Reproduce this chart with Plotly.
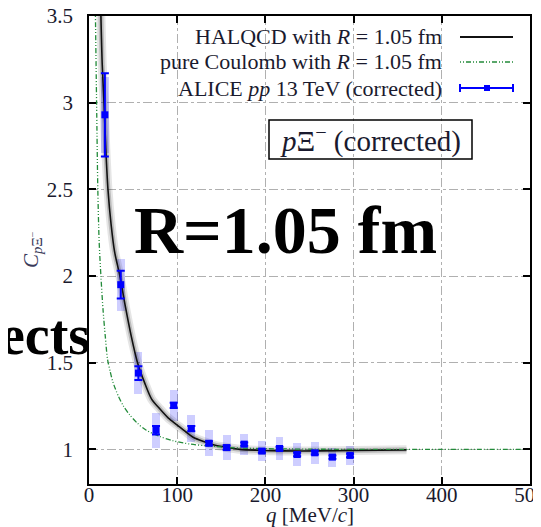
import plotly.graph_objects as go

# ---- data ----
q_data = [18, 36, 56, 76, 96, 116, 136, 156, 176, 196, 216, 236, 256, 276, 296]
c_data = [2.93, 1.95, 1.44, 1.11, 1.254, 1.12, 1.035, 1.01, 1.03, 0.99, 1.005, 0.97, 0.98, 0.955, 0.965]
stat_err = [0.24, 0.08, 0.04, 0.025, 0.015, 0.015, 0.012, 0.012, 0.01, 0.01, 0.01, 0.01, 0.01, 0.01, 0.01]
sys_err = [0.22, 0.15, 0.12, 0.10, 0.09, 0.08, 0.075, 0.07, 0.06, 0.06, 0.065, 0.065, 0.065, 0.055, 0.055]

q_hal = [13.5, 15, 17, 19, 21.5, 25, 29, 35, 41, 48, 55, 63, 71, 80, 90, 100, 110, 118, 130, 142, 155, 171, 190, 220, 260, 300, 360]
c_hal = [3.5, 3.22, 3.0, 2.74, 2.5, 2.3, 2.14, 2.0, 1.83, 1.65, 1.5, 1.385, 1.29, 1.235, 1.18, 1.14, 1.10, 1.07, 1.045, 1.025, 1.012, 1.0, 0.995, 0.991, 0.991, 0.993, 0.997]

q_coul = [7.3, 8.6, 10, 11.5, 13.5, 16, 18.5, 21, 24, 27, 33, 39, 46, 55, 65, 80, 95, 115, 135, 160, 200, 250, 300, 400, 500]
c_coul = [3.5, 3.0, 2.5, 2.2, 2.0, 1.8, 1.65, 1.52, 1.45, 1.39, 1.31, 1.25, 1.2, 1.15, 1.11, 1.075, 1.05, 1.03, 1.02, 1.01, 1.004, 1.001, 1.0, 1.0, 1.0]

x_ticks = [0, 100, 200, 300, 400, 500]
y_ticks = [1, 1.5, 2, 2.5, 3, 3.5]
y_ticktext = ["1", "1.5", "2", "2.5", "3", "3.5"]

legend_labels = ["HALQCD with <i>R</i> = 1.05 fm",
                 "pure Coulomb with <i>R</i> = 1.05 fm",
                 "ALICE <i>pp</i> 13 TeV (corrected)"]

SERIF = "Liberation Serif, Times New Roman, serif"
BLUE = "#0000ff"
GREEN = "#238b3a"
TXT = "#1a1a2e"

fig = go.Figure()

# systematic boxes
fig.add_trace(go.Bar(
    x=q_data,
    y=[2 * s for s in sys_err],
    base=[c - s for c, s in zip(c_data, sys_err)],
    width=9,
    marker=dict(color="rgba(60,60,255,0.25)", line=dict(width=0)),
    showlegend=False, hoverinfo="skip"))

# HALQCD band + line
fig.add_trace(go.Scatter(x=q_hal, y=c_hal, mode="lines",
                         line=dict(color="rgba(0,0,0,0.10)", width=9, shape="spline", smoothing=0.8),
                         showlegend=False, hoverinfo="skip"))
fig.add_trace(go.Scatter(x=q_hal, y=c_hal, mode="lines",
                         line=dict(color="rgba(0,0,0,0.18)", width=5, shape="spline", smoothing=0.8),
                         showlegend=False, hoverinfo="skip"))
fig.add_trace(go.Scatter(x=q_hal, y=c_hal, mode="lines",
                         line=dict(color="#111111", width=1.6, shape="spline", smoothing=0.8),
                         showlegend=False))

# pure Coulomb
fig.add_trace(go.Scatter(x=q_coul, y=c_coul, mode="lines",
                         line=dict(color=GREEN, width=1.3, dash="1px,2px,1px,2px,5px,2px",
                                   shape="spline", smoothing=0.8),
                         showlegend=False))

# data
fig.add_trace(go.Scatter(x=q_data, y=c_data, mode="markers",
                         marker=dict(symbol="square", size=7, color=BLUE),
                         error_y=dict(type="data", array=stat_err, color=BLUE, thickness=2, width=4),
                         showlegend=False))

# layout geometry: page has an 8px body margin, so the figure is offset by 8px
OFF = 8
PAGE_W, PAGE_H = 541, 527
PL, PR, PT, PB = 89, 530, 16, 484           # plot area in page pixels
W, H = PAGE_W - OFF, PAGE_H - OFF
L, T = PL - OFF, PT - OFF
R, B = W - (PR - OFF), H - (PB - OFF)
PW, PH = PR - PL, PB - PT


def px(xp):
    return (xp - PL) / PW


def py(yp):
    return (PB - yp) / PH


shapes = []
# white legend background hiding the grid
shapes.append(dict(type="rect", xref="paper", yref="paper", x0=px(130), x1=1, y0=py(106), y1=1,
                   fillcolor="white", line=dict(width=0), layer="between"))
# legend samples
ly = [37, 62, 88]
shapes.append(dict(type="line", xref="paper", yref="paper", x0=px(460), x1=px(513), y0=py(ly[0]), y1=py(ly[0]),
                   line=dict(color="#111111", width=2)))
shapes.append(dict(type="line", xref="paper", yref="paper", x0=px(460), x1=px(513), y0=py(ly[1]), y1=py(ly[1]),
                   line=dict(color=GREEN, width=1.3, dash="1px,2px,1px,2px,5px,2px")))
shapes.append(dict(type="line", xref="paper", yref="paper", x0=px(460), x1=px(513), y0=py(ly[2]), y1=py(ly[2]),
                   line=dict(color=BLUE, width=2)))
for xc in (460, 513):
    shapes.append(dict(type="line", xref="paper", yref="paper", x0=px(xc), x1=px(xc),
                       y0=py(ly[2] - 4), y1=py(ly[2] + 4), line=dict(color=BLUE, width=2)))
shapes.append(dict(type="rect", xref="paper", yref="paper", x0=px(484), x1=px(490),
                   y0=py(ly[2] + 3), y1=py(ly[2] - 3), fillcolor=BLUE, line=dict(width=0)))
# p Xi box
shapes.append(dict(type="rect", xref="paper", yref="paper", x0=px(269), x1=px(472), y0=py(159), y1=py(120),
                   line=dict(color="black", width=1.5), fillcolor="rgba(0,0,0,0)"))

annotations = []
for lab, yy in zip(legend_labels, ly):
    annotations.append(dict(text=lab, xref="paper", yref="paper", x=px(444), y=py(yy),
                            xanchor="right", yanchor="middle", showarrow=False,
                            font=dict(family=SERIF, size=22, color=TXT)))
annotations.append(dict(text="<i>p</i>Ξ<sup>−</sup> (corrected)", xref="paper", yref="paper",
                        x=px(370), y=py(140), xanchor="center", yanchor="middle", showarrow=False,
                        font=dict(family=SERIF, size=29, color=TXT)))
annotations.append(dict(text="<b>R=1.05 fm</b>", xref="paper", yref="paper",
                        x=px(285), y=py(230), xanchor="center", yanchor="middle", showarrow=False,
                        font=dict(family=SERIF, size=68, color="black")))
annotations.append(dict(text="<b>ects</b>", xref="paper", yref="paper",
                        x=px(92), y=py(335), xanchor="right", yanchor="middle", showarrow=False,
                        font=dict(family=SERIF, size=56, color="black")))
annotations.append(dict(text="<i>C</i><sub><i>p</i>Ξ<sup>−</sup></sub>", xref="paper", yref="paper",
                        x=px(32), y=py(250), xanchor="center", yanchor="middle", showarrow=False,
                        textangle=-90, font=dict(family=SERIF, size=21, color="#3a3a5a")))
annotations.append(dict(text="<i>q</i> [MeV/<i>c</i>]", xref="paper", yref="paper",
                        x=px(310), y=py(515), xanchor="center", yanchor="middle", showarrow=False,
                        font=dict(family=SERIF, size=21, color=TXT)))

axis_common = dict(showline=True, linecolor="black", linewidth=1.8, mirror="ticks",
                   ticks="inside", ticklen=7, tickwidth=1.8, tickcolor="black",
                   showgrid=True, gridcolor="#b0b0b0", gridwidth=1, griddash="dashdot",
                   zeroline=False, automargin=False, ticklabeloverflow="allow",
                   tickfont=dict(family=SERIF, size=21, color=TXT))

fig.update_layout(
    width=W, height=H,
    margin=dict(l=L, r=R, t=T, b=B, autoexpand=False),
    paper_bgcolor="white", plot_bgcolor="white",
    xaxis=dict(range=[0, 500], tickvals=x_ticks, ticktext=[str(v) for v in x_ticks],
               ticklabelstandoff=-9, **axis_common),
    yaxis=dict(range=[0.8, 3.5], tickvals=y_ticks, ticktext=y_ticktext,
               ticklabelstandoff=10, **axis_common),
    shapes=shapes, annotations=annotations,
    showlegend=False, bargap=0,
)

fig.write_html("out.html")
